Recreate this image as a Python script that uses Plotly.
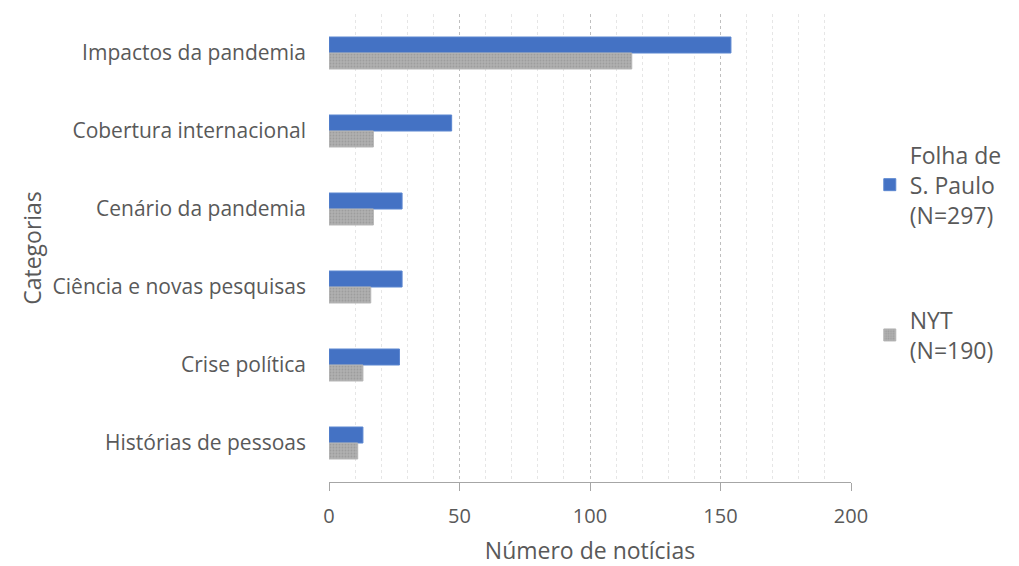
import plotly.graph_objects as go

categories = ["Impactos da pandemia", "Cobertura internacional", "Cenário da pandemia",
              "Ciência e novas pesquisas", "Crise política", "Histórias de pessoas"]
folha = [154, 47, 28, 28, 27, 13]
nyt = [116, 17, 17, 16, 13, 11]
x_ticks = [0, 50, 100, 150, 200]

FONT = "Open Sans"
TXT = "#595959"

fig = go.Figure()
fig.add_trace(go.Bar(
    y=categories, x=folha, orientation="h", name="Folha de<br>S. Paulo<br>(N=297)",
    marker=dict(color="#4472C4", line=dict(color="#5B86D0", width=1)),
    legend="legend", showlegend=True,
))
fig.add_trace(go.Bar(
    y=categories, x=nyt, orientation="h", name="NYT<br>(N=190)",
    marker=dict(color="#A5A5A5", line=dict(color="#B5B5B5", width=1),
                pattern=dict(shape=".", fgcolor="#8C8C8C", bgcolor="#AFAFAF", size=3, solidity=0.3)),
    legend="legend2", showlegend=True,
))

fig.update_layout(
    width=1019, height=566,
    margin=dict(l=329, r=166, t=14, b=84),
    paper_bgcolor="white", plot_bgcolor="white",
    barmode="group", bargap=0.59, bargroupgap=0,
    showlegend=True,
    font=dict(family=FONT, color=TXT, size=18),
    xaxis=dict(
        range=[0, 200], tickvals=x_ticks, ticktext=[str(v) for v in x_ticks],
        automargin=False,
        showgrid=True, gridcolor="#BFBFBF", gridwidth=1, griddash="dot",
        minor=dict(dtick=10, showgrid=True, gridcolor="#E6E6E6", gridwidth=1, griddash="dot"),
        showline=True, linecolor="#A6A6A6", linewidth=1,
        ticks="outside", ticklen=8, tickcolor="#A6A6A6",
        ticklabelstandoff=8,
        tickfont=dict(size=20, color=TXT), zeroline=False,
        title=dict(text="Número de notícias", font=dict(size=23, color=TXT), standoff=16),
    ),
    yaxis=dict(
        autorange="reversed", showgrid=False, showline=False, ticks="",
        automargin=False,
        tickfont=dict(size=21, color=TXT), ticklabelstandoff=22,
        title=dict(text="Categorias", font=dict(size=23, color=TXT), standoff=4),
    ),
    legend=dict(x=1.036, xanchor="left", y=0.635, yanchor="middle",
                font=dict(size=23, color=TXT), itemwidth=30,
                bgcolor="rgba(0,0,0,0)"),
    legend2=dict(x=1.036, xanchor="left", y=0.314, yanchor="middle",
                 font=dict(size=23, color=TXT), itemwidth=30,
                 bgcolor="rgba(0,0,0,0)"),
)

fig.write_html("out.html")
